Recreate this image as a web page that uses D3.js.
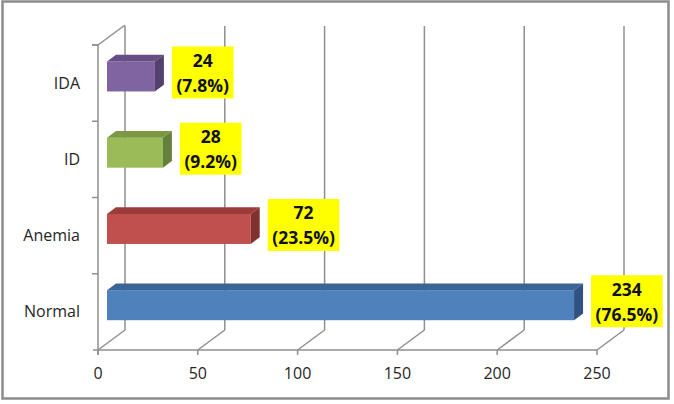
<!DOCTYPE html>
<html>
<head>
<meta charset="utf-8">
<script src="https://cdn.jsdelivr.net/npm/d3@7"></script>
<style>
  body { margin: 0; background: #fff; }
  svg { display: block; }
</style>
</head>
<body>
<svg id="chart"></svg>
<script>

var categories = ["Normal", "Anemia", "ID", "IDA"];
var counts = [234, 72, 28, 24];
var percents = ["76.5%", "23.5%", "9.2%", "7.8%"];
var xTicks = [0, 50, 100, 150, 200, 250];

var colors = {
  Normal: ["#4f81bd", "#3c6597", "#2f5281"],
  Anemia: ["#c0504d", "#9c3c3a", "#813230"],
  ID:     ["#9bbb59", "#7b9945", "#65803a"],
  IDA:    ["#8064a2", "#654e85", "#52406d"]
};

function draw(){

  var width = 674, height = 404;
  // depth offset of the 3D floor
  var dx = 27, dy = -20;

  var svg = d3.select("#chart").attr("width", width).attr("height", height);

  // outer frame
  svg.append("rect")
     .attr("x", 2.5).attr("y", 1.5)
     .attr("width", 666).attr("height", 397)
     .attr("fill", "#fff")
     .attr("stroke", "#8c8c8c")
     .attr("stroke-width", 2.5);

  var x = d3.scaleLinear().domain([0, 250]).range([98, 597]);
  var y = d3.scaleBand().domain(categories).range([350, 45]);

  var grid = svg.append("g").attr("stroke", "#8f8f8f").attr("stroke-width", 1.5).attr("fill", "none");

  // back wall gridlines and floor diagonals
  xTicks.forEach(function(t){
    grid.append("line")
        .attr("x1", x(t) + dx).attr("x2", x(t) + dx)
        .attr("y1", 350 + dy).attr("y2", 26);
    grid.append("line")
        .attr("x1", x(t)).attr("y1", 350)
        .attr("x2", x(t) + dx).attr("y2", 350 + dy);
    grid.append("line")
        .attr("x1", x(t)).attr("x2", x(t))
        .attr("y1", 350).attr("y2", 355);
  });

  // left wall
  grid.append("line").attr("x1", 98).attr("x2", 98).attr("y1", 45).attr("y2", 355);
  grid.append("line").attr("x1", 98).attr("y1", 45).attr("x2", 98 + dx).attr("y2", 45 + dy);
  grid.append("line").attr("x1", 93).attr("x2", 597).attr("y1", 350).attr("y2", 350);
  [45].concat(categories.map(function(c){ return y(c); })).forEach(function(v){
    grid.append("line").attr("x1", 92).attr("x2", 98).attr("y1", v).attr("y2", v);
  });

  // bars: front face at 1/3 of the depth, back at 2/3
  var ox = dx / 3, oy = dy / 3;
  var barH = 30;

  var bars = svg.append("g");
  categories.forEach(function(c, i){
    var v = counts[i];
    var x0 = x(0) + ox, x1 = x(v) + ox;
    var yc = y(c) + y.bandwidth() / 2 + oy;
    var yt = yc - barH / 2, yb = yc + barH / 2;
    var col = colors[c];

    bars.append("rect")
        .attr("x", x0).attr("y", yt)
        .attr("width", x1 - x0).attr("height", barH)
        .attr("fill", col[0]);
    bars.append("path")
        .attr("d", "M" + x0 + "," + yt + "L" + x1 + "," + yt +
                   "L" + (x1 + ox) + "," + (yt + oy) + "L" + (x0 + ox) + "," + (yt + oy) + "Z")
        .attr("fill", col[1]);
    bars.append("path")
        .attr("d", "M" + x1 + "," + yt + "L" + (x1 + ox) + "," + (yt + oy) +
                   "L" + (x1 + ox) + "," + (yb + oy) + "L" + x1 + "," + yb + "Z")
        .attr("fill", col[2]);

    // data label
    var lab = svg.append("g");
    var box = lab.append("rect").attr("fill", "#ffff00");
    var t1 = lab.append("text").text(v)
        .attr("text-anchor", "middle")
        .attr("font-family", "Open Sans").attr("font-weight", "bold")
        .attr("font-size", 17.5).attr("fill", "#111");
    var t2 = lab.append("text").text("(" + percents[i] + ")")
        .attr("text-anchor", "middle")
        .attr("font-family", "Open Sans").attr("font-weight", "bold")
        .attr("font-size", 17.5).attr("fill", "#111");
    var w = Math.max(t1.node().getComputedTextLength(), t2.node().getComputedTextLength()) + 9;
    var bx = x1 + ox + 8;
    var by = yc - 4;
    box.attr("x", bx).attr("y", by - 26).attr("width", w).attr("height", 52);
    t1.attr("x", bx + w / 2).attr("y", by - 12).attr("dy", "0.36em");
    t2.attr("x", bx + w / 2).attr("y", by + 13).attr("dy", "0.36em");
  });

  // category labels
  svg.append("g").selectAll("text")
     .data(categories).enter()
     .append("text")
     .attr("x", 80)
     .attr("y", function(d){ return y(d) + y.bandwidth() / 2; })
     .attr("dy", "0.35em")
     .attr("text-anchor", "end")
     .attr("font-family", "Open Sans").attr("font-size", 16)
     .attr("fill", "#262626")
     .text(function(d){ return d; });

  // x tick labels
  svg.append("g").selectAll("text")
     .data(xTicks).enter()
     .append("text")
     .attr("x", function(d){ return x(d); })
     .attr("y", 373)
     .attr("dy", "0.35em")
     .attr("text-anchor", "middle")
     .attr("font-family", "Open Sans").attr("font-size", 16)
     .attr("fill", "#262626")
     .text(function(d){ return d; });
}

draw();
</script>
</body>
</html>
